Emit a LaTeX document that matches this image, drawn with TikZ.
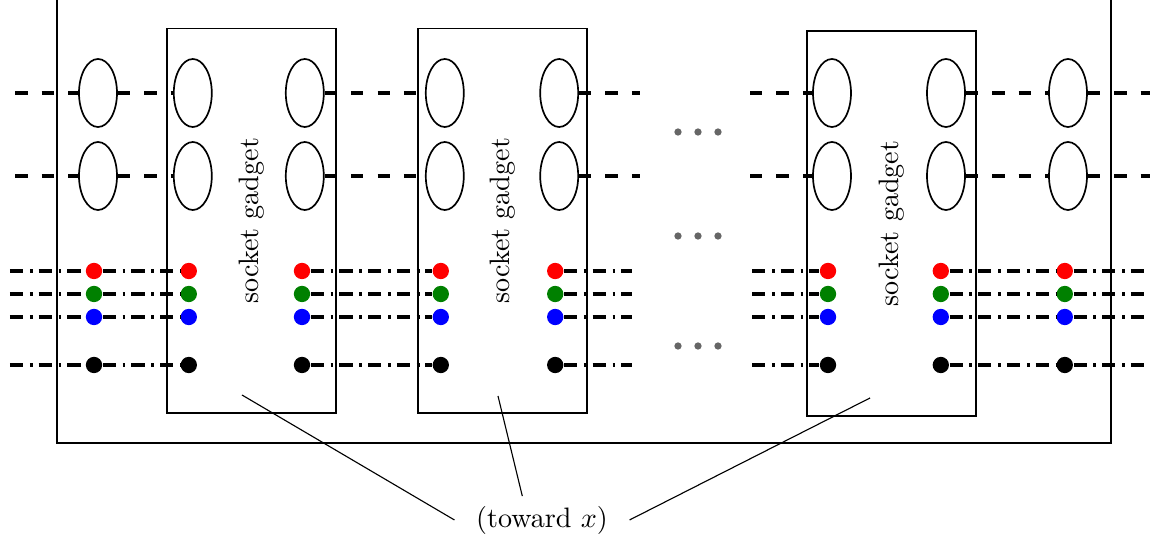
\documentclass[tikz,border=0pt]{standalone}
\usetikzlibrary{shapes.geometric}

\begin{document}
\begin{tikzpicture}[
  socket/.style={draw, semithick, ellipse, inner sep=0, minimum width=0.475cm, minimum height=0.85cm},
  pin/.style={circle, inner sep=0, minimum size=5.8pt},
  gadget/.style={draw, semithick, rotate=90, minimum width=4.81cm, minimum height=2.11cm},
  wire/.style={line width=1.1pt, dash pattern=on 4.4pt off 5pt},
  lane/.style={line width=1.1pt, dash pattern=on 4.7pt off 2.4pt on 1pt off 2.1pt}
]
\useasboundingbox (0,0) rectangle (14.45,6.75);

% Frame and gadgets
\draw[semithick] (0.71,1.2125) rectangle (13.89,7.2);
\node[gadget] (g1) at (3.145,3.99) {socket gadget\hspace{7pt}};
\node[gadget] (g2) at (6.28,3.99) {socket gadget\hspace{7pt}};
\node[gadget] (g3) at (11.144,3.956) {socket gadget\hspace{7pt}};

% Sockets
\foreach \n/\x in {oL/1.225, aL/2.41, aR/3.81, bL/5.56, bR/6.99, cL/10.4, cR/11.825, oR/13.35} {
  \node[socket] (\n1) at (\x,5.5875) {};
  \node[socket] (\n2) at (\x,4.55) {};
}

% Pins
\foreach \n/\x in {oL/1.175, aL/2.36, aR/3.775, bL/5.51, bR/6.94, cL/10.35, cR/11.76, oR/13.31} {
  \node[pin, fill=red] (\n-r) at (\x,3.3625) {};
  \node[pin, fill=green!50!black] (\n-g) at (\x,3.075) {};
  \node[pin, fill=blue] (\n-b) at (\x,2.7875) {};
  \node[pin, fill=black] (\n-k) at (\x,2.1875) {};
}

% Socket wires
\foreach \k/\y in {1/5.5875, 2/4.55} {
  \coordinate (inW\k) at (0.19,\y);
  \coordinate (outA\k) at (8.0,\y);
  \coordinate (inB\k) at (9.375,\y);
  \coordinate (outE\k) at (14.375,\y);
  \draw[wire] (inW\k) -- (oL\k);
  \draw[wire] (oL\k) -- (aL\k);
  \draw[wire] (aR\k) -- (bL\k);
  \draw[wire] (bR\k) -- (outA\k);
  \draw[wire] (inB\k) -- (cL\k);
  \draw[wire] (cR\k) -- (oR\k);
  \draw[wire] (oR\k) -- (outE\k);
}

% Pin lanes
\foreach \c/\y in {r/3.3625, g/3.075, b/2.7875, k/2.1875} {
  \coordinate (inW-\c) at (0.125,\y);
  \coordinate (outA-\c) at (7.9,\y);
  \coordinate (inB-\c) at (9.4,\y);
  \coordinate (outE-\c) at (14.375,\y);
  \draw[lane] (inW-\c) -- (oL-\c);
  \draw[lane] (oL-\c) -- (aL-\c);
  \draw[lane] (aR-\c) -- (bL-\c);
  \draw[lane] (bR-\c) -- (outA-\c);
  \draw[lane] (inB-\c) -- (cL-\c);
  \draw[lane] (cR-\c) -- (oR-\c);
  \draw[lane] (oR-\c) -- (outE-\c);
}

% Ellipsis dots
\foreach \y in {5.1, 3.8, 2.425}
  \foreach \x in {8.475, 8.725, 8.975}
    \fill[black!60] (\x,\y) circle (1.3pt);

% Label
\node[inner xsep=7.5pt, inner ysep=3.3pt] (toward) at (6.775,0.25) {(toward $x$)};
\coordinate (t1) at (3.025,1.8125);
\coordinate (t2) at (6.225,1.8);
\coordinate (t3) at (10.875,1.775);
\draw (t1) -- (toward.west);
\draw (t2) -- ([xshift=-7pt]toward.north);
\draw (t3) -- (toward.east);

\end{tikzpicture}
\end{document}
